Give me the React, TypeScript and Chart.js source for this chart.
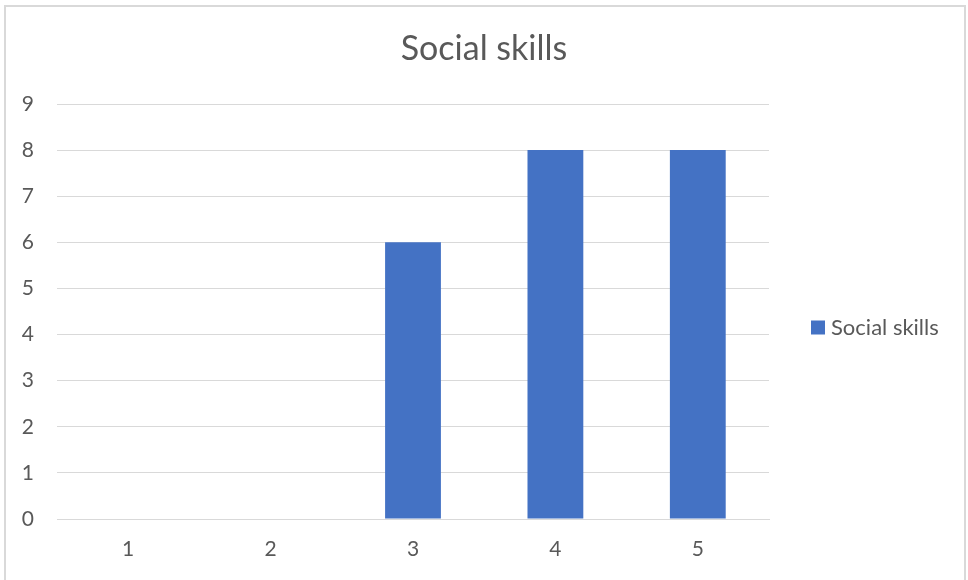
import React, { useEffect, useRef } from "react";
import { Chart, registerables } from "chart.js";

Chart.register(...registerables);

const categories = ["1", "2", "3", "4", "5"];
const seriesName = "Social skills";
const titleText = "Social skills";
const values = [0, 0, 6, 8, 8];
const yTicks = [0, 1, 2, 3, 4, 5, 6, 7, 8, 9];

const FONT = "Lato, 'Open Sans', sans-serif";
const TEXT = "#595959";
const GRID = "#d9d9d9";
const BAR = "#4472C4";

const titleLegendPlugin = {
  id: "titleLegend",
  afterDraw(chart: any) {
    const ctx = chart.ctx;
    const ds = chart.data.datasets[0];
    const area = chart.chartArea;
    ctx.save();
    // title
    ctx.fillStyle = TEXT;
    ctx.font = `34px ${FONT}`;
    ctx.textAlign = "center";
    ctx.textBaseline = "middle";
    ctx.fillText(titleText, chart.width / 2, 49);
    // legend
    const cy = (area.top + area.bottom) / 2 + 16;
    ctx.fillStyle = ds.backgroundColor;
    ctx.fillRect(811, cy - 7, 14, 14);
    ctx.fillStyle = TEXT;
    ctx.font = `22px ${FONT}`;
    ctx.textAlign = "left";
    ctx.fillText(ds.label, 831, cy);
    ctx.restore();
  },
};

export default function App() {
  const ref = useRef<HTMLCanvasElement>(null);
  useEffect(() => {
    document.body.style.margin = "0";
    const chart = new Chart(ref.current!, {
      type: "bar",
      data: {
        labels: categories,
        datasets: [
          {
            label: seriesName,
            data: values,
            backgroundColor: BAR,
            categoryPercentage: 1,
            barPercentage: 0.392,
          },
        ],
      },
      plugins: [titleLegendPlugin],
      options: {
        animation: false,
        responsive: false,
        layout: { padding: { left: 0, right: 199, top: 104, bottom: 0 } },
        plugins: {
          legend: { display: false },
          tooltip: { enabled: false },
          title: { display: false },
        },
        scales: {
          x: {
            grid: { display: false, drawTicks: false },
            border: { display: true, color: GRID, width: 1 },
            ticks: { color: TEXT, font: { family: FONT, size: 21 }, padding: 18 },
            afterFit: (s: any) => {
              s.height = 61;
            },
          },
          y: {
            min: 0,
            max: 9,
            afterBuildTicks: (s: any) => {
              s.ticks = yTicks.map((v) => ({ value: v }));
            },
            grid: { color: GRID, lineWidth: 1, drawTicks: false },
            border: { display: false },
            ticks: { color: TEXT, font: { family: FONT, size: 21 }, padding: 23 },
            afterFit: (s: any) => {
              s.width = 57;
            },
          },
        },
      },
    });
    return () => chart.destroy();
  }, []);
  return (
    <div style={{ position: "fixed", left: 0, top: 0, width: 968, height: 580, background: "#fff", overflow: "hidden" }}>
      <div
        style={{
          position: "absolute",
          left: 4,
          top: 5,
          width: 962,
          height: 640,
          border: "2px solid #d9d9d9",
          boxSizing: "border-box",
        }}
      />
      <canvas ref={ref} width={968} height={580} style={{ position: "absolute", left: 0, top: 0 }} />
    </div>
  );
}
